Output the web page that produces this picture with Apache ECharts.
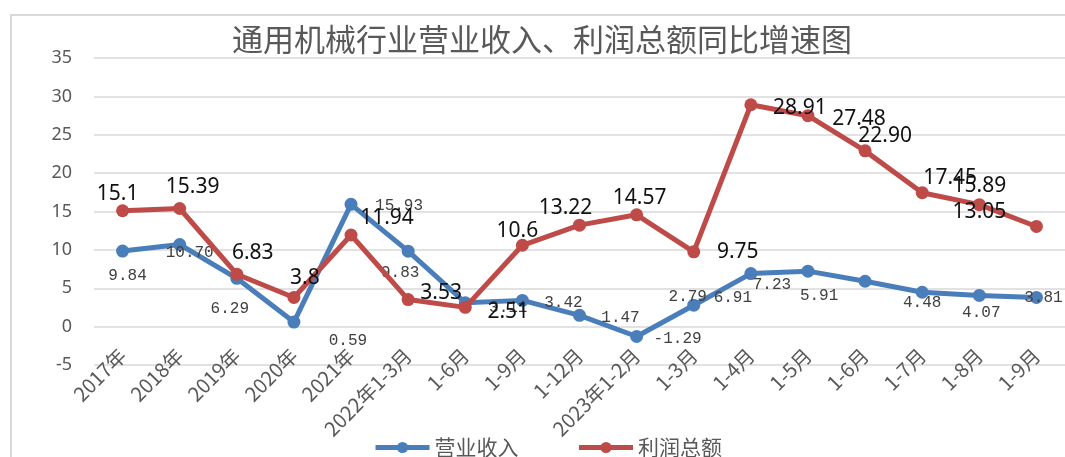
<!DOCTYPE html>
<html>
<head>
<meta charset="utf-8">
<script src="https://cdn.jsdelivr.net/npm/echarts@6/dist/echarts.min.js"></script>
<style>
html,body{margin:0;padding:0;background:#fff;}
#chart{width:1065px;height:457px;}
</style>
</head>
<body>
<div id="chart"></div>
<script>
var categories = ['2017年','2018年','2019年','2020年','2021年','2022年1-3月','1-6月','1-9月','1-12月','2023年1-2月','1-3月','1-4月','1-5月','1-6月','1-7月','1-8月','1-9月'];
var revenue = [9.84,10.70,6.29,0.59,15.93,9.83,3.11,3.42,1.47,-1.29,2.79,6.91,7.23,5.91,4.48,4.07,3.81];
var profit = [15.1,15.39,6.83,3.8,11.94,3.53,2.51,10.6,13.22,14.57,9.75,28.91,27.48,22.90,17.45,15.89,13.05];
var profitText = ['15.1','15.39','6.83','3.8','11.94','3.53','2.51','10.6','13.22','14.57','9.75','28.91','27.48','22.90','17.45','15.89','13.05'];
var yTicks = {min:-5, max:35, interval:5};

// label placement (pixels, relative to point)
var revOffsets = [[5,25],[10,8],[-7,30],[54,19],[48,1],[-8,22],[43,5],[41,2],[41,2],[41,2],[-6,-8],[-18,24],[-36,14],[-46,14],[0,11],[2,17],[7,0]];
var proOffsets = [[-5,-17],[13,-21],[16,-21],[11,-19],[36,-17],[33,-7],[43,5],[-5,-14],[-14,-17],[3,-17],[44,0],[49,3],[51,3],[20,-15],[28,-15],[0,-19],[-57,-14]];

var BLUE = '#4A7EBB', RED = '#BE4B48';

var chart = echarts.init(document.getElementById('chart'));
chart.setOption({
  animation: false,
  backgroundColor: '#fff',
  graphic: [{
    type: 'rect', shape: {x: 11, y: 15, width: 1100, height: 460},
    style: {fill: 'none', stroke: '#d9d9d9', lineWidth: 2}, z: -1
  }],
  title: {
    text: '通用机械行业营业收入、利润总额同比增速图',
    left: 232, top: 24, padding: 0,
    textStyle: {fontSize: 31, fontWeight: 'normal', color: '#595959', fontFamily: 'Noto Sans CJK SC'}
  },
  legend: {
    left: 368, top: 432, itemWidth: 54, itemHeight: 14, itemGap: 58,
    lineStyle: {width: 5},
    textStyle: {fontSize: 21, color: '#595959', fontFamily: 'Noto Sans CJK SC'},
    data: ['营业收入','利润总额']
  },
  grid: {left: 94, top: 58, width: 975, height: 307, containLabel: false},
  xAxis: {
    type: 'category', data: categories, boundaryGap: true, offset: -39,
    axisLine: {show: false, onZero: false},
    axisTick: {show: false},
    axisLabel: {rotate: 45, margin: 26, interval: 0, fontSize: 20, color: '#595959', fontFamily: 'Noto Sans CJK SC'}
  },
  yAxis: {
    type: 'value', min: yTicks.min, max: yTicks.max, interval: yTicks.interval,
    axisLine: {show: false}, axisTick: {show: false},
    axisLabel: {margin: 22, fontSize: 18, color: '#595959', fontFamily: 'Noto Sans'},
    splitLine: {lineStyle: {color: '#d9d9d9', width: 1.5}}
  },
  series: [{
    name: '营业收入', type: 'line', data: revenue.map(function(v, i){
      return {value: v, label: {offset: revOffsets[i]}};
    }),
    symbol: 'circle', symbolSize: 13, z: 2,
    lineStyle: {color: BLUE, width: 5}, itemStyle: {color: BLUE},
    label: {
      show: true, position: 'inside', align: 'center', verticalAlign: 'middle',
      fontSize: 16, color: '#404040', fontFamily: 'Liberation Mono',
      formatter: function(p){ return revenue[p.dataIndex].toFixed(2); }
    }
  }, {
    name: '利润总额', type: 'line', data: profit.map(function(v, i){
      return {value: v, label: {offset: proOffsets[i]}};
    }),
    symbol: 'circle', symbolSize: 13, z: 3,
    lineStyle: {color: RED, width: 5}, itemStyle: {color: RED},
    label: {
      show: true, position: 'inside', align: 'center', verticalAlign: 'middle',
      fontSize: 21, color: '#111', fontFamily: 'Noto Sans',
      formatter: function(p){ return profitText[p.dataIndex]; }
    }
  }]
});
</script>
</body>
</html>
